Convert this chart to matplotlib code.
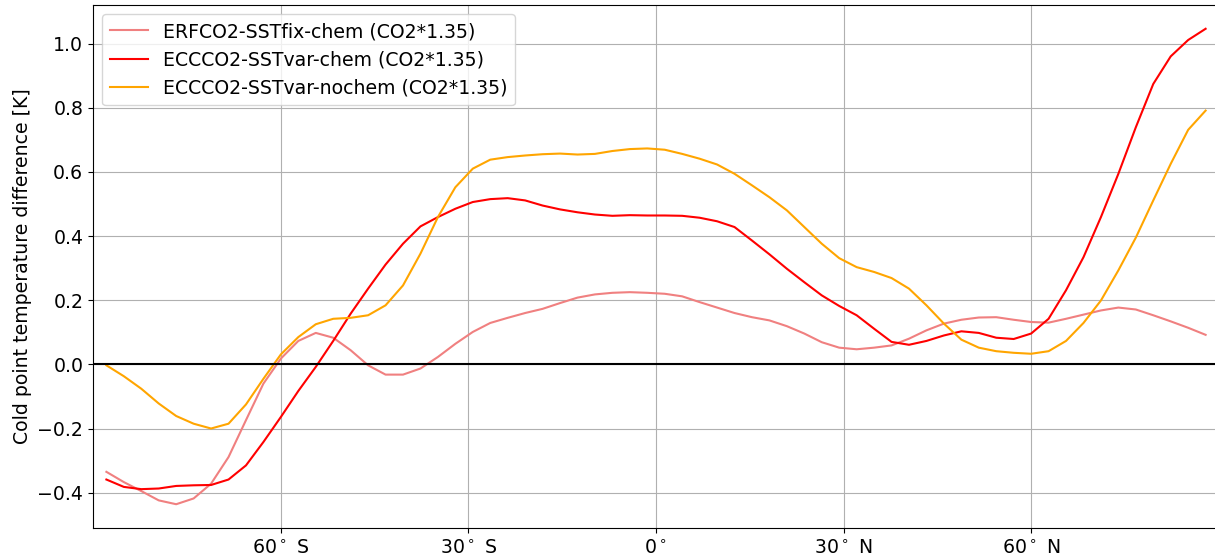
import numpy as np
import matplotlib
matplotlib.use('Agg')
from matplotlib import pyplot as plt

# T42 gaussian latitudes (approx.)
lat = np.linspace(-87.86, 87.86, 64)

# cold point temperature difference [K]
erf_fix_chem = [-0.335, -0.367, -0.395, -0.424, -0.436, -0.418, -0.372, -0.289, -0.174, -0.060,
                0.018, 0.073, 0.098, 0.083, 0.044, -0.003, -0.032, -0.032, -0.013, 0.023,
                0.064, 0.101, 0.129, 0.145, 0.160, 0.173, 0.191, 0.208, 0.218, 0.223,
                0.225, 0.223, 0.220, 0.212, 0.194, 0.177, 0.160, 0.147, 0.137, 0.119,
                0.096, 0.069, 0.052, 0.047, 0.052, 0.059, 0.080, 0.106, 0.127, 0.139,
                0.146, 0.147, 0.139, 0.132, 0.130, 0.142, 0.155, 0.168, 0.177, 0.171,
                0.153, 0.134, 0.114, 0.092]

ecc_var_chem = [-0.359, -0.382, -0.389, -0.387, -0.379, -0.377, -0.376, -0.359, -0.315, -0.242,
                -0.164, -0.083, -0.008, 0.073, 0.158, 0.236, 0.311, 0.376, 0.430, 0.459,
                0.485, 0.506, 0.515, 0.518, 0.511, 0.495, 0.483, 0.474, 0.467, 0.463,
                0.465, 0.464, 0.464, 0.463, 0.457, 0.446, 0.428, 0.386, 0.343, 0.298,
                0.256, 0.215, 0.182, 0.153, 0.111, 0.070, 0.061, 0.073, 0.090, 0.103,
                0.098, 0.083, 0.079, 0.096, 0.142, 0.231, 0.334, 0.459, 0.594, 0.739,
                0.874, 0.960, 1.011, 1.046]

ecc_var_nochem = [-0.003, -0.037, -0.076, -0.122, -0.161, -0.185, -0.200, -0.185, -0.125, -0.045,
                  0.031, 0.085, 0.125, 0.142, 0.145, 0.153, 0.184, 0.246, 0.345, 0.459,
                  0.552, 0.610, 0.638, 0.646, 0.651, 0.655, 0.657, 0.654, 0.656, 0.665,
                  0.671, 0.673, 0.669, 0.656, 0.641, 0.623, 0.594, 0.558, 0.521, 0.480,
                  0.428, 0.376, 0.331, 0.303, 0.288, 0.269, 0.236, 0.184, 0.127, 0.077,
                  0.052, 0.041, 0.036, 0.033, 0.041, 0.073, 0.129, 0.199, 0.293, 0.395,
                  0.511, 0.625, 0.731, 0.791]

xticks = [-60, -30, 0, 30, 60]
xticklabels = ['60$^\\circ$ S', '30$^\\circ$ S', '0$^\\circ$', '30$^\\circ$ N', '60$^\\circ$ N']

plt.rcParams['font.size'] = 13.6

fig = plt.figure(figsize=(12.15, 5.6), dpi=100)
ax = fig.add_axes([93/1215., 32/560., 1126/1215., 523/560.])

ax.plot(lat, erf_fix_chem, color='lightcoral', label='ERFCO2-SSTfix-chem (CO2*1.35)')
ax.plot(lat, ecc_var_chem, color='red', label='ECCCO2-SSTvar-chem (CO2*1.35)')
ax.plot(lat, ecc_var_nochem, color='orange', label='ECCCO2-SSTvar-nochem (CO2*1.35)')
ax.axhline(0, color='k', lw=1.5)

ax.set_xlim([-90, 90])
ax.set_xticks(xticks)
ax.set_xticklabels(xticklabels)
ax.set_ylabel('Cold point temperature difference [K]')
ax.grid(True)
ax.legend(loc='upper left')

plt.savefig('out.png', dpi=100)
plt.close()
